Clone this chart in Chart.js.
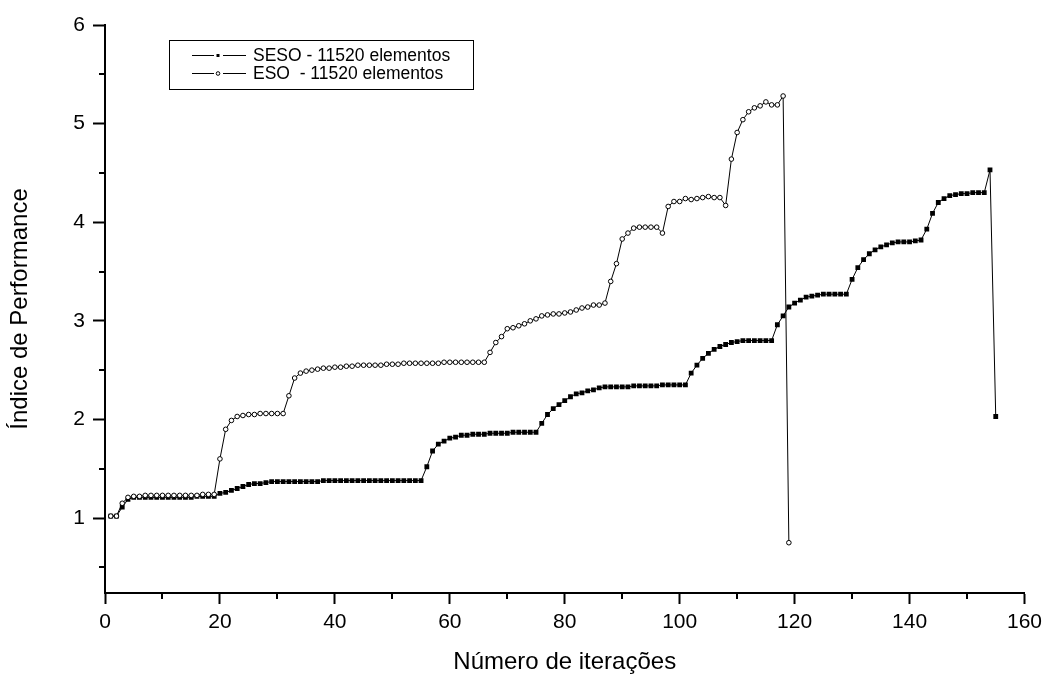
<!DOCTYPE html>
<html>
<head>
<meta charset="utf-8">
<script src="https://cdn.jsdelivr.net/npm/chart.js@4.4.0/dist/chart.umd.min.js"></script>
<style>
  body { margin: 0; background: #fff; }
</style>
</head>
<body>
<canvas id="plot-id" width="1048" height="677"></canvas>
<script>
// series, one value per iteration (starting at 1)
const seso_label = 'SESO - 11520 elementos';
const eso_label = 'ESO  - 11520 elementos';
const seso_values = [
  1.02, 1.02, 1.11, 1.19,
  1.21, 1.21, 1.21, 1.21, 1.21, 1.21, 1.21, 1.21, 1.21, 1.21, 1.21, 1.22, 1.22, 1.22, 1.22,
  1.25, 1.26, 1.28, 1.30, 1.32, 1.34, 1.35, 1.35, 1.36, 1.37,
  1.37, 1.37, 1.37, 1.37, 1.37, 1.37, 1.37, 1.37, 1.38, 1.38, 1.38, 1.38, 1.38, 1.38, 1.38, 1.38, 1.38,
  1.38, 1.38, 1.38, 1.38, 1.38, 1.38, 1.38, 1.38, 1.38,
  1.52, 1.68, 1.75, 1.78, 1.81, 1.82, 1.84, 1.84, 1.85, 1.85, 1.85,
  1.86, 1.86, 1.86, 1.86, 1.87, 1.87, 1.87, 1.87, 1.87,
  1.96, 2.05, 2.11, 2.15, 2.19, 2.23, 2.26, 2.27, 2.29, 2.30, 2.32, 2.33,
  2.33, 2.33, 2.33, 2.33, 2.34, 2.34, 2.34, 2.34, 2.34, 2.35, 2.35, 2.35, 2.35, 2.35,
  2.47, 2.55, 2.62, 2.67, 2.71, 2.74, 2.76, 2.78, 2.79,
  2.80, 2.80, 2.80, 2.80, 2.80, 2.80,
  2.96, 3.05, 3.14, 3.18, 3.21, 3.24, 3.25, 3.26,
  3.27, 3.27, 3.27, 3.27, 3.27,
  3.42, 3.54, 3.62, 3.68, 3.72, 3.75, 3.77,
  3.79, 3.80, 3.80, 3.80, 3.81, 3.82,
  3.93, 4.09, 4.20, 4.24, 4.27, 4.28, 4.29, 4.29, 4.30, 4.30, 4.30, 4.53, 2.03
];
const eso_values = [
  1.02, 1.02, 1.15, 1.21,
  1.22, 1.22, 1.23, 1.23, 1.23, 1.23, 1.23, 1.23, 1.23, 1.23, 1.23, 1.23, 1.24, 1.24, 1.24,
  1.60, 1.90, 1.99, 2.03,
  2.04, 2.05, 2.05, 2.06, 2.06, 2.06, 2.06, 2.06,
  2.24, 2.42, 2.47, 2.49, 2.50, 2.51, 2.52, 2.52, 2.53, 2.53, 2.54, 2.54,
  2.55, 2.55, 2.55, 2.55, 2.55,
  2.56, 2.56, 2.56, 2.57, 2.57, 2.57, 2.57, 2.57, 2.57, 2.57,
  2.58, 2.58, 2.58, 2.58, 2.58, 2.58, 2.58, 2.58,
  2.68, 2.78, 2.84, 2.92, 2.93, 2.95, 2.97, 3.00, 3.02, 3.05, 3.06, 3.07, 3.07, 3.08,
  3.09, 3.11, 3.13, 3.14, 3.16, 3.16, 3.18,
  3.40, 3.58, 3.83, 3.89, 3.94, 3.95, 3.95, 3.95, 3.95, 3.89,
  4.16, 4.21, 4.21, 4.24, 4.23, 4.24, 4.25, 4.26, 4.25, 4.25, 4.17,
  4.64, 4.91, 5.04, 5.12, 5.16, 5.18, 5.22, 5.19, 5.19, 5.28, 0.75
];
const x_minor_ticks = [10, 30, 50, 70, 90, 110, 130, 150];
const y_minor_ticks = [0.5, 1.5, 2.5, 3.5, 4.5, 5.5];

const font_family = "'Liberation Sans', Arial, sans-serif";

function to_points(values) {
    return values.map((v, i) => ({ x: i + 1, y: v }));
}

// minor ticks (chart.js has none) and the boxed legend like the original
const extras = {
    id: 'extras',
    afterDraw(chart) {
        const c = chart.ctx;
        const xs = chart.scales.x, ys = chart.scales.y;
        c.save();
        c.strokeStyle = '#000';
        c.lineWidth = 2;
        c.beginPath();
        x_minor_ticks.forEach(v => {
            const px = Math.round(xs.getPixelForValue(v));
            c.moveTo(px, xs.top);
            c.lineTo(px, xs.top + 6);
        });
        y_minor_ticks.forEach(v => {
            const py = Math.round(ys.getPixelForValue(v));
            c.moveTo(ys.right, py);
            c.lineTo(ys.right - 6, py);
        });
        c.stroke();

        // legend
        c.lineWidth = 1;
        c.strokeRect(169.5, 40.5, 304, 49);
        c.font = '17.5px ' + font_family;
        c.textBaseline = 'middle';
        c.fillStyle = '#000';
        chart.data.datasets.forEach((ds, i) => {
            const y = 55 + i * 18;
            c.beginPath();
            c.moveTo(192, y + 0.5);
            c.lineTo(246, y + 0.5);
            c.stroke();
            c.fillStyle = '#fff';
            c.fillRect(214, y - 3, 9, 7);
            c.fillStyle = '#000';
            if (ds.pointStyle === 'rect') {
                c.fillRect(216.5, y - 1, 3, 3);
            } else {
                c.beginPath();
                c.arc(218, y + 0.5, 1.8, 0, Math.PI * 2);
                c.stroke();
            }
            c.fillText(ds.label, 253, y + 1);
        });
        c.restore();
    }
};

const ctx = document.getElementById('plot-id');
const chart = new Chart(ctx, {
    type: 'line',
    data: {
        datasets: [
            {
                label: seso_label,
                data: to_points(seso_values),
                borderColor: '#000',
                borderWidth: 1,
                pointStyle: 'rect',
                pointRadius: 3.4,
                pointBackgroundColor: '#000',
                pointBorderColor: '#000',
                pointBorderWidth: 0,
                tension: 0,
                order: 1
            },
            {
                label: eso_label,
                data: to_points(eso_values),
                borderColor: '#000',
                borderWidth: 1,
                pointStyle: 'circle',
                pointRadius: 2.3,
                pointBackgroundColor: '#fff',
                pointBorderColor: '#000',
                pointBorderWidth: 1,
                tension: 0,
                order: 0
            }
        ]
    },
    options: {
        responsive: false,
        animation: false,
        layout: { padding: { top: 25, right: 23, left: 0, bottom: 0 } },
        plugins: {
            legend: { display: false },
            tooltip: { enabled: false }
        },
        scales: {
            x: {
                type: 'linear',
                min: 0,
                max: 160,
                ticks: { stepSize: 20, color: '#000', padding: 6, maxRotation: 0, font: { size: 21, family: font_family } },
                grid: { drawOnChartArea: false, drawTicks: true, tickLength: 11, tickColor: '#000', tickWidth: 2 },
                border: { display: true, color: '#000', width: 2 },
                title: {
                    display: true,
                    text: 'Número de iterações',
                    color: '#000',
                    font: { size: 24, family: font_family },
                    padding: { top: 0, bottom: 0 }
                },
                afterFit: s => { s.height = 84; }
            },
            y: {
                min: 0.24,
                max: 6,
                ticks: { stepSize: 1, color: '#000', padding: 8, font: { size: 21, family: font_family } },
                afterBuildTicks: s => { s.ticks = s.ticks.filter(t => Number.isInteger(t.value)); },
                grid: { drawOnChartArea: false, drawTicks: true, tickLength: 12, tickColor: '#000', tickWidth: 2 },
                border: { display: true, color: '#000', width: 2 },
                title: {
                    display: true,
                    text: 'Índice de Performance',
                    color: '#000',
                    font: { size: 24, family: font_family },
                    padding: { top: 6, bottom: 0 }
                },
                afterFit: s => { s.width = 105; }
            }
        }
    },
    plugins: [extras]
});
</script>
</body>
</html>
